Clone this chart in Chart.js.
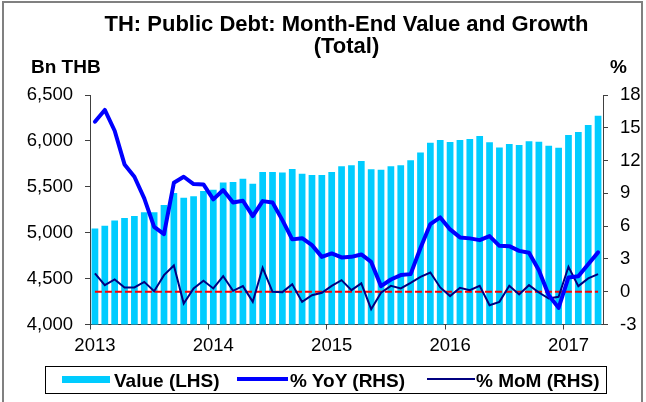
<!DOCTYPE html>
<html>
<head>
<meta charset="utf-8">
<script src="https://cdn.jsdelivr.net/npm/chart.js@4.4.0/dist/chart.umd.min.js"></script>
<style>
  html, body { margin: 0; padding: 0; background: #fff; }
  #wrap { position: relative; width: 646px; height: 402px; overflow: hidden;
          font-family: 'Liberation Sans', Arial, sans-serif; color: #000; }
  #frame { position: absolute; left: 2px; top: 1px; width: 641px; height: 420px;
           border: 2px solid #808080; box-sizing: border-box; }
  canvas { position: absolute; left: 0; top: 0; }
  .txt { position: absolute; font-weight: bold; white-space: nowrap; }
  #title { left: 90px; width: 513px; top: 13px; text-align: center; font-size: 22px; line-height: 22px; }
  .unit { top: 57px; font-size: 19px; line-height: 20px; }
  #legend { position: absolute; left: 45px; top: 366px; width: 562px; height: 28px;
            border: 1px solid #000; box-sizing: border-box; }
  .sw { position: absolute; }
  .lg { top: 370px; font-size: 19px; line-height: 22px; }
</style>
</head>
<body>
<div id="wrap">
  <div id="frame"></div>
  <canvas id="c" width="646" height="402"></canvas>
  <div id="title" class="txt">TH: Public Debt: Month-End Value and Growth<br>(Total)</div>
  <div class="txt unit" style="left:31px">Bn THB</div>
  <div class="txt unit" style="left:610px">%</div>
  <div id="legend"></div>
  <div class="sw" style="left:62px;top:376px;width:48px;height:7px;background:#00CCFF"></div>
  <div class="txt lg" style="left:114px">Value (LHS)</div>
  <div class="sw" style="left:237px;top:377px;width:51px;height:4px;background:#0000FF"></div>
  <div class="txt lg" style="left:290px">% YoY (RHS)</div>
  <div class="sw" style="left:427px;top:378px;width:48px;height:2px;background:#000080"></div>
  <div class="txt lg" style="left:476px">% MoM (RHS)</div>
</div>
<script>
const YEARS = ['2013', '2014', '2015', '2016', '2017'];

// Month-end value, Bn THB (Jan 2013 - Apr 2017)
const VALUE = [
  5047, 5075, 5134, 5159, 5181, 5224, 5224, 5301, 5432, 5380, 5396, 5453,
  5467, 5548, 5551, 5587, 5533, 5660, 5660, 5657, 5693, 5641, 5628, 5628,
  5660, 5725, 5736, 5780, 5690, 5686, 5723, 5736, 5789, 5873, 5980, 6009,
  5988, 6009, 6020, 6053, 5984, 5929, 5965, 5954, 5995, 5991, 5947, 5925,
  6064, 6096, 6173, 6274
];

const YOY = [
  15.56, 16.63, 14.73, 11.65, 10.52, 8.54, 5.94, 5.27, 9.97, 10.52, 9.85, 9.82,
  8.45, 9.30, 8.17, 8.32, 6.92, 8.29, 8.17, 6.55, 4.79, 4.90, 4.26, 3.19,
  3.50, 3.14, 3.19, 3.41, 2.73, 0.51, 1.12, 1.52, 1.61, 4.00, 6.19, 6.80,
  5.70, 4.97, 4.88, 4.72, 5.09, 4.20, 4.17, 3.74, 3.56, 1.97, -0.32, -1.48,
  1.31, 1.42, 2.52, 3.60
];

const MOM = [
  1.67, 0.60, 1.12, 0.39, 0.39, 0.90, 0.05, 1.52, 2.40, -1.08, 0.30, 1.00,
  0.30, 1.42, 0.08, 0.51, -0.93, 2.19, -0.01, -0.04, 0.69, -0.93, -0.32, -0.10,
  0.54, 1.06, 0.14, 0.76, -1.60, -0.10, 0.54, 0.30, 0.81, 1.36, 1.76, 0.39,
  -0.40, 0.36, 0.14, 0.54, -1.23, -0.93, 0.54, -0.25, 0.60, -0.07, -0.62, -0.47,
  2.28, 0.51, 1.22, 1.61
];

const LHS_TICKS = [4000, 4500, 5000, 5500, 6000, 6500];
const RHS_TICKS = [-3, 0, 3, 6, 9, 12, 15, 18];

const MONTHS = [];
YEARS.forEach(y => {
  for (let m = 1; m <= 12; m++) MONTHS.push(y + '-' + String(m).padStart(2, '0'));
});
MONTHS.length = VALUE.length;

const AXIS = '#404040';
const FONT = { family: "'Liberation Sans', Arial, sans-serif", size: 18.5 };

// red dashed zero line on the RHS scale, drawn over the bars but under the lines
const zeroLine = {
  id: 'zeroLine',
  afterDatasetDraw(chart, args) {
    if (args.index !== 0) return;
    const { ctx, scales } = chart;
    const y = scales.y1.getPixelForValue(0);
    ctx.save();
    ctx.strokeStyle = '#FF0000';
    ctx.lineWidth = 2;
    ctx.setLineDash([7, 3]);
    ctx.beginPath();
    ctx.moveTo(scales.x.getPixelForValue(0), y);
    ctx.lineTo(scales.x.getPixelForValue(VALUE.length - 1), y);
    ctx.stroke();
    ctx.restore();
  }
};

new Chart(document.getElementById('c'), {
  type: 'bar',
  data: {
    labels: MONTHS,
    datasets: [
      {
        label: 'Value (LHS)', data: VALUE, yAxisID: 'y', order: 2,
        backgroundColor: '#00CCFF', categoryPercentage: 1, barPercentage: 0.68
      },
      {
        type: 'line', label: '% YoY (RHS)', data: YOY, yAxisID: 'y1', order: 0,
        borderColor: '#0000FF', borderWidth: 4, pointRadius: 0, tension: 0,
        borderJoinStyle: 'round', borderCapStyle: 'round'
      },
      {
        type: 'line', label: '% MoM (RHS)', data: MOM, yAxisID: 'y1', order: 1,
        borderColor: '#000080', borderWidth: 2, pointRadius: 0, tension: 0
      }
    ]
  },
  options: {
    responsive: false,
    animation: false,
    layout: { padding: { top: 95, left: 0, right: 0, bottom: 0 } },
    plugins: { legend: { display: false }, tooltip: { enabled: false } },
    scales: {
      x: {
        afterFit: s => { s.height = 77.5; },
        grid: {
          drawOnChartArea: false, tickLength: 5,
          color: ctx => (ctx.index !== undefined && ctx.index % 12 === 0 ? AXIS : 'rgba(0,0,0,0)')
        },
        border: { color: AXIS, width: 1 },
        ticks: {
          autoSkip: false, maxRotation: 0, padding: 5, color: '#000', font: FONT,
          callback: (v, i) => (MONTHS[i].endsWith('-01') ? MONTHS[i].slice(0, 4) : '')
        }
      },
      y: {
        position: 'left', min: 4000, max: 6500,
        afterFit: s => { s.width = 90; },
        afterBuildTicks: s => { s.ticks = LHS_TICKS.map(v => ({ value: v })); },
        grid: { drawOnChartArea: false, tickLength: 5, color: AXIS },
        border: { color: AXIS, width: 1 },
        ticks: { padding: 12, color: '#000', font: FONT, callback: v => v.toLocaleString('en-US') }
      },
      y1: {
        position: 'right', min: -3, max: 18,
        afterFit: s => { s.width = 43; },
        afterBuildTicks: s => { s.ticks = RHS_TICKS.map(v => ({ value: v })); },
        grid: { drawOnChartArea: false, tickLength: 5, color: AXIS },
        border: { color: AXIS, width: 1 },
        ticks: { padding: 12, color: '#000', font: FONT }
      }
    }
  },
  plugins: [zeroLine]
});
</script>
</body>
</html>
